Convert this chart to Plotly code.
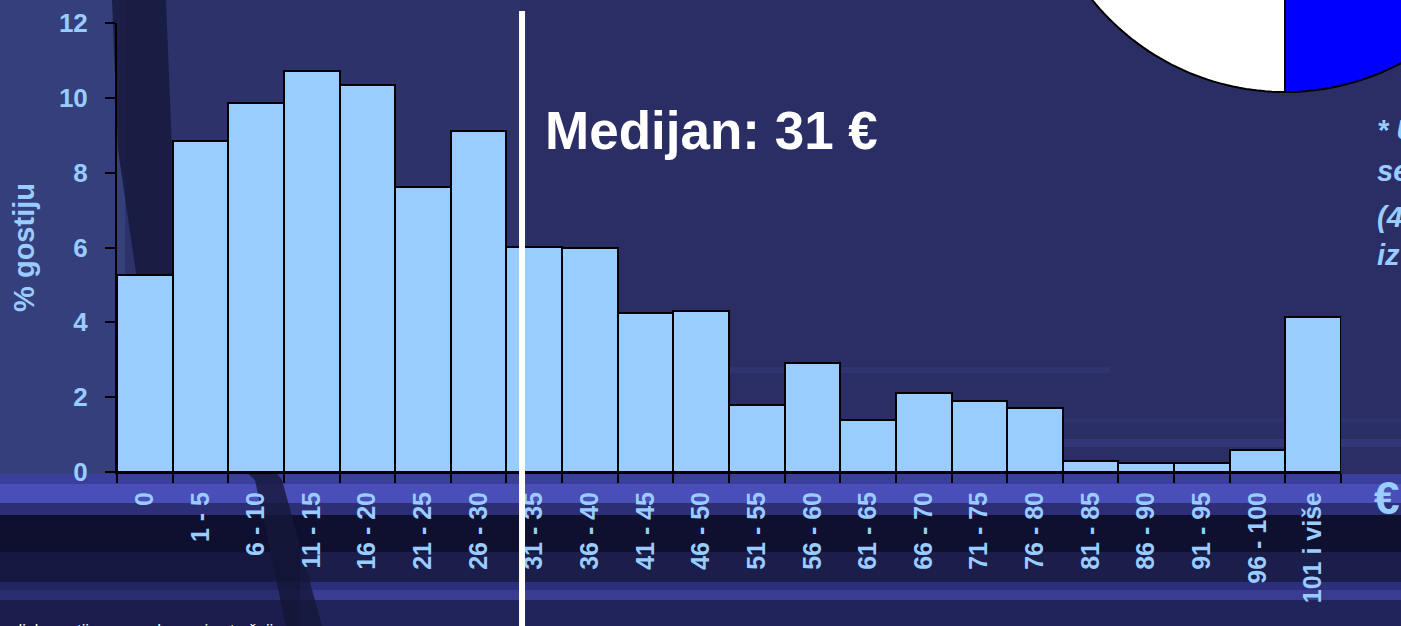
import numpy as np
import plotly.graph_objects as go

# ---------------- data ----------------
categories = ["0", "1 - 5", "6 - 10", "11 - 15", "16 - 20", "21 - 25", "26 - 30",
              "31 - 35", "36 - 40", "41 - 45", "46 - 50", "51 - 55", "56 - 60",
              "61 - 65", "66 - 70", "71 - 75", "76 - 80", "81 - 85", "86 - 90",
              "91 - 95", "96 - 100", "101 i više"]
percent_guests = [5.27, 8.85, 9.86, 10.72, 10.33, 7.62, 9.12,
                  6.02, 5.98, 4.25, 4.30, 1.80, 2.92,
                  1.38, 2.12, 1.91, 1.70, 0.30, 0.25,
                  0.25, 0.58, 4.14]
y_ticks = [0, 2, 4, 6, 8, 10, 12]
median_label = "Medijan: 31 €"
median_axis_pos = 6.78          # position of the median marker on the category axis
y_title = "% gostiju"
side_note_lines = ["* U", "se", "(4", "iz"]

# ---------------- geometry helpers (figure pixels -> paper) ----------------
W, H = 1401, 626
ML, MR, MT, MB = 117, 60, 23, 154
PW, PH = W - ML - MR, H - MT - MB
x_range = [-0.5, len(categories) - 0.5]


def pxx(x):
    return (x - ML) / PW


def pxy(y):
    return (H - MB - y) / PH


def poly(points):
    return "M " + " L ".join(f"{pxx(a):.5f},{pxy(b):.5f}" for a, b in points) + " Z"


LIGHT = "#99CCFF"
FONT = "Liberation Sans, Arial, sans-serif"

fig = go.Figure()
fig.add_trace(go.Bar(
    x=categories, y=percent_guests,
    marker=dict(color=LIGHT, line=dict(color="black", width=2)),
    hoverinfo="x+y",
))

shapes = []


def rect(x0, y0, x1, y1, color, opacity=1.0):
    shapes.append(dict(type="rect", xref="paper", yref="paper",
                       x0=pxx(x0), x1=pxx(x1), y0=pxy(y1), y1=pxy(y0),
                       fillcolor=color, opacity=opacity, line=dict(width=0),
                       layer="below"))


# ---- background decoration ----
rect(0, 0, 125, 476, "#35417e", 0.9)
rect(125, 0, 520, 470, "#2f3670", 0.5)
# bottom bands
rect(0, 474, W, 484, "#3a3e9c")
rect(0, 484, W, 503, "#4a4eb8")
rect(0, 503, W, 515, "#2c2e76")
rect(0, 515, W, 552, "#0f1030")
rect(0, 552, W, 582, "#1b1d4a")
rect(0, 582, W, 590, "#2c2f7c")
rect(0, 590, W, 600, "#393c92")
rect(0, 600, W, H, "#21245a")
# faint streaks
rect(720, 367, 1110, 373, "#394089", 0.35)
rect(1060, 439, W, 447, "#3d4290", 0.45)
rect(1060, 418, W, 423, "#353a80", 0.3)
# dark diagonal swoosh
shapes.append(dict(type="path", xref="paper", yref="paper", layer="below",
                   path=poly([(112, 0), (166, 0), (172, 150), (200, 300), (238, 420),
                              (282, 480), (322, H), (286, H), (255, 480),
                              (190, 420), (140, 300), (118, 150)]),
                   fillcolor="#15183a", opacity=0.8, line=dict(width=0)))
rect(0, 552, 300, H, "#0f1030", 0.35)

# ---- partial pie in top-right corner ----
cx, cy, r = 1285, -156, 248
ang_left = np.linspace(np.pi / 2, 3 * np.pi / 2, 120)
left_pts = [(cx, cy)] + [(cx + r * np.cos(a), cy + r * np.sin(a)) for a in ang_left[::-1]]
ang_right = np.linspace(-np.pi / 2, np.pi / 2, 120)
right_pts = [(cx, cy)] + [(cx + r * np.cos(a), cy + r * np.sin(a)) for a in ang_right]
shapes.append(dict(type="path", xref="paper", yref="paper", layer="above",
                   path=poly(right_pts), fillcolor="#0000FF",
                   line=dict(color="black", width=2)))
shapes.append(dict(type="path", xref="paper", yref="paper", layer="above",
                   path=poly(left_pts), fillcolor="#FFFFFF",
                   line=dict(color="black", width=2)))

# ---- median line ----
mx = (median_axis_pos - x_range[0]) / (x_range[1] - x_range[0])
shapes.append(dict(type="line", xref="paper", yref="paper",
                   x0=mx, x1=mx, y0=pxy(H + 5), y1=pxy(11),
                   line=dict(color="white", width=6), layer="above"))

annotations = [
    dict(text=median_label, xref="paper", yref="paper", x=pxx(543), y=pxy(130),
         xanchor="left", yanchor="middle", showarrow=False,
         font=dict(family=FONT, size=53, color="white", weight="bold")),
    dict(text="€", xref="paper", yref="paper", x=pxx(1372), y=pxy(498),
         xanchor="left", yanchor="middle", showarrow=False,
         font=dict(family=FONT, size=46, color=LIGHT, weight="bold")),
    dict(text="raspodjela gostiju prema dnevnoj potrošnji", xref="paper", yref="paper",
         x=pxx(-30), y=pxy(630), xanchor="left", yanchor="middle", showarrow=False,
         font=dict(family=FONT, size=16, color="white", style="italic")),
]
note_y = [130, 171, 217, 255]
for txt, yy in zip(side_note_lines, note_y):
    annotations.append(dict(text=txt, xref="paper", yref="paper", x=pxx(1375), y=pxy(yy),
                            xanchor="left", yanchor="middle", showarrow=False,
                            font=dict(family=FONT, size=29, color=LIGHT,
                                      weight="bold", style="italic")))

fig.update_layout(
    width=W, height=H,
    margin=dict(l=ML, r=MR, t=MT, b=MB, autoexpand=False),
    paper_bgcolor="#2a2e65", plot_bgcolor="rgba(0,0,0,0)",
    bargap=0, showlegend=False,
    shapes=shapes, annotations=annotations,
    font=dict(family=FONT, color=LIGHT),
)
fig.update_xaxes(
    type="category", range=x_range, showgrid=False, zeroline=False,
    showline=True, linecolor="black", linewidth=2,
    ticks="outside", tickson="boundaries", ticklen=9, tickwidth=1.5, tickcolor="black",
    tickangle=-90, ticklabelstandoff=8,
    tickfont=dict(family=FONT, size=25, color=LIGHT, weight="bold"),
    automargin=False,
)
fig.update_yaxes(
    range=[0, 12], tickvals=y_ticks, showgrid=False, zeroline=False,
    showline=True, linecolor="black", linewidth=2,
    ticks="outside", ticklen=10, tickwidth=1.5, tickcolor="black",
    ticklabelstandoff=12,
    tickfont=dict(family=FONT, size=26, color=LIGHT, weight="bold"),
    title=dict(text=y_title, standoff=16,
               font=dict(family=FONT, size=29, color=LIGHT, weight="bold")),
    automargin=False,
)

fig.write_html(
    "out.html",
    config={"displayModeBar": False},
    post_script="document.body.style.margin='0';document.body.style.overflow='hidden';",
)
